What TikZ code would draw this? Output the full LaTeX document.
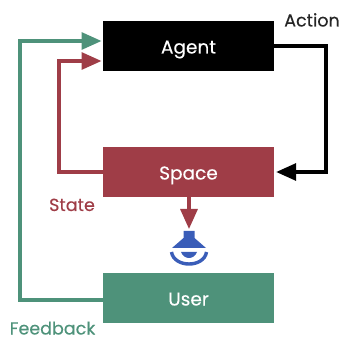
\documentclass[tikz,border=0pt]{standalone}
\usepackage{fontspec}
\setmainfont{Poppins}[FakeBold=0.25]
\usetikzlibrary{arrows.meta}
\definecolor{redc}{HTML}{9F3D47}
\definecolor{greenc}{HTML}{4E927A}
\definecolor{bluec}{HTML}{3A5DB8}
\tikzset{
  x=1pt,y=-1pt,
  blockbox/.style={minimum width=171pt,minimum height=50pt,inner sep=0pt,text=white,text height=15pt,text depth=0pt,font=\fontsize{18.5}{20}\selectfont},
  conn/.style={line width=3.2pt,line join=miter,-{Triangle[length=20pt,width=17pt]}},
  lab/.style={inner sep=0pt,anchor=base,font=\fontsize{17.5}{19}\selectfont},
}
\begin{document}
\begin{tikzpicture}
\useasboundingbox (0,0) rectangle (343,339);
\node[blockbox,fill=black] (agent) at (188.5,46) {Agent};
\node[blockbox,fill=redc] (space) at (188.5,172) {Space};
\node[blockbox,fill=greenc] (user) at (188.5,298) {User};
\node[lab,text=black!85] (action) at (312,26.5) {Action};
\node[lab,text=redc] (state) at (72,211) {State};
\node[lab,text=greenc] (feedback) at (52.5,334.5) {Feedback};
\coordinate (ga) at (101.5,41);
\coordinate (gu) at (103,300);
\coordinate (gc1) at (20,300);
\coordinate (gc2) at (20,41);
\coordinate (ra) at (101.5,61);
\coordinate (rs) at (103,172);
\coordinate (rc1) at (59,172);
\coordinate (rc2) at (59,61);
\coordinate (bc1) at (326,46);
\coordinate (bc2) at (326,172);
\coordinate (dn) at (189,229);
\draw[conn,draw=greenc] (gu) -- (gc1) -- (gc2) -- (ga);
\draw[conn,draw=redc] (rs) -- (rc1) -- (rc2) -- (ra);
\draw[conn,draw=black] (agent.east) -- (bc1) -- (bc2) -- ([xshift=2pt]space.east);
\draw[conn,draw=redc] (space.south -| dn) -- (dn);
% eye / lamp icon
\fill[bluec] (183.5,231) -- (194.5,231) -- (194.5,238) -- (206,248) -- (172,248) -- (183.5,238) -- cycle;
\fill[bluec] (181,252) .. controls (184,260) and (194,260) .. (197,252) -- cycle;
\draw[bluec,line width=3.4pt] (171.5,252) .. controls (174,268) and (204,268) .. (206.5,252);
\end{tikzpicture}
\end{document}
